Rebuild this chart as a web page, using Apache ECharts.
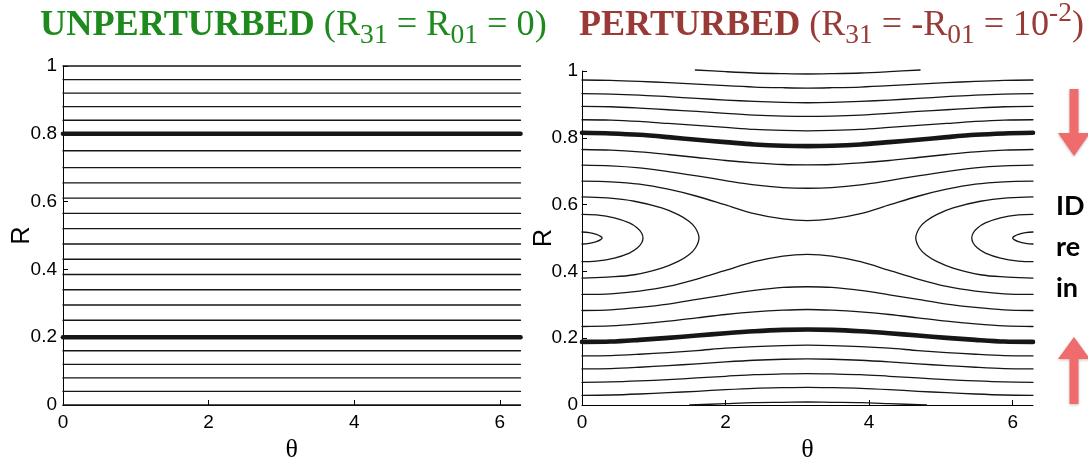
<!DOCTYPE html>
<html><head><meta charset="utf-8">
<script src="https://cdn.jsdelivr.net/npm/echarts@6/dist/echarts.min.js"></script>
<style>html,body{margin:0;padding:0;background:#fff}#c{width:1088px;height:468px}</style>
</head><body><div id="c"></div>
<script>
// ---------- DATA ----------
const TWO_PI = 6.2832;
const xTicks = [0, 2, 4, 6];

// Unperturbed: flat levels of R
const leftLevels = [0, 0.04, 0.08, 0.12, 0.16, 0.25, 0.295, 0.34, 0.385, 0.43, 0.475, 0.52, 0.565, 0.61, 0.655, 0.70, 0.75, 0.84, 0.88, 0.92, 0.96, 1.0];
const leftThickLevels = [0.2, 0.8];

// Perturbed: open field lines sampled on a theta grid
const thetaGrid = [0, 0.4, 0.8, 1.2, 1.6, 2.0, 2.4, 2.8, 3.1416, 3.48, 3.88, 4.28, 4.68, 5.08, 5.48, 5.88, 6.2832];
const rB  = [.973,.972,.969,.965,.961,.956,.952,.950,.949,.950,.952,.956,.961,.965,.969,.972,.973];
const rC  = [.932,.931,.928,.923,.918,.913,.909,.906,.905,.906,.909,.913,.918,.923,.928,.931,.932];
const rD  = [.894,.893,.889,.884,.879,.873,.868,.865,.864,.865,.868,.873,.879,.884,.889,.893,.894];
const rE  = [.854,.853,.849,.843,.837,.831,.825,.822,.821,.822,.825,.831,.837,.843,.849,.853,.854];
const rThickUp = [.815,.813,.809,.802,.794,.787,.780,.776,.775,.776,.780,.787,.794,.802,.809,.813,.815];
const rG  = [.765,.763,.758,.750,.741,.732,.725,.720,.719,.720,.725,.732,.741,.750,.758,.763,.765];
const rH  = [.718,.716,.710,.699,.686,.672,.659,.651,.649,.651,.659,.672,.686,.699,.710,.716,.718];
const rI  = [.670,.668,.661,.646,.625,.599,.573,.557,.552,.557,.573,.599,.625,.646,.661,.668,.670];
const rI2 = [.331,.333,.341,.355,.377,.403,.429,.446,.451,.446,.429,.403,.377,.355,.341,.333,.331];
const rH2 = [.283,.285,.292,.302,.316,.330,.343,.352,.354,.352,.343,.330,.316,.302,.292,.285,.283];
const rG2 = [.235,.237,.243,.251,.261,.271,.279,.284,.286,.284,.279,.271,.261,.251,.243,.237,.235];
const rThickLow = [.189,.190,.195,.201,.208,.215,.221,.225,.226,.225,.221,.215,.208,.201,.195,.190,.189];
const rJ2 = [.147,.148,.152,.157,.163,.170,.175,.178,.179,.178,.175,.170,.163,.157,.152,.148,.147];
const rK2 = [.108,.109,.113,.118,.123,.129,.134,.137,.138,.137,.134,.129,.123,.118,.113,.109,.108];
const rL2 = [.068,.069,.072,.076,.081,.086,.091,.093,.094,.093,.091,.086,.081,.076,.072,.069,.068];
const rM2 = [.029,.030,.033,.037,.041,.046,.050,.052,.053,.052,.050,.046,.041,.037,.033,.030,.029];

// Partial arcs near R=1 and R=0
const topArcTheta = [1.58, 2.0, 2.4, 2.8, 3.1416, 3.48, 3.88, 4.28, 4.71];
const topArcR     = [1.003, .998, .994, .992, .991, .992, .994, .998, 1.003];
const botArcTheta = [1.5, 2.0, 2.4, 2.8, 3.1416, 3.48, 3.88, 4.28, 4.8];
const botArcR     = [0.0, .004, .007, .008, .009, .008, .007, .004, 0.0];

// Island contours around the O-point (theta = 0 and 2*pi, R = 0.5)
const smallIslLTheta = [0, 0.1, 0.2, 0.26, 0.28, 0.26, 0.2, 0.1, 0];
const smallIslRTheta = [6.2832, 6.18, 6.08, 6.02, 6.0, 6.02, 6.08, 6.18, 6.2832];
const smallIslR      = [.518, .516, .511, .505, .5, .495, .489, .484, .482];
const medIslLTheta = [0, 0.2, 0.45, 0.66, 0.77, 0.83, 0.85, 0.83, 0.77, 0.66, 0.45, 0.2, 0];
const medIslRTheta = [6.2832, 6.08, 5.83, 5.62, 5.51, 5.45, 5.43, 5.45, 5.51, 5.62, 5.83, 6.08, 6.2832];
const medIslR      = [.571, .569, .560, .545, .530, .515, .5, .485, .470, .455, .440, .431, .429];
const bigIslLTheta = [0, 0.35, 0.73, 1.11, 1.34, 1.49, 1.58, 1.63, 1.58, 1.49, 1.34, 1.11, 0.73, 0.35, 0];
const bigIslRTheta = [6.2832, 5.93, 5.55, 5.17, 4.94, 4.79, 4.70, 4.65, 4.70, 4.79, 4.94, 5.17, 5.55, 5.93, 6.2832];
const bigIslR      = [.623, .620, .610, .590, .570, .550, .530, .500, .470, .450, .430, .410, .390, .383, .380];

// ---------- BUILD ----------
const THIN = 1.3, THICK = 4.6, LC = '#161616';
const zip = (xs, ys) => xs.map((x, i) => [x, ys[i]]);
const series = [];
function add(grid, data, width, smooth) {
  series.push({
    type: 'line', xAxisIndex: grid, yAxisIndex: grid, data: data,
    showSymbol: false, symbol: 'none', silent: true, clip: false,
    smooth: smooth,
    lineStyle: { color: LC, width: width, cap: 'round', join: 'round' }
  });
}
leftLevels.forEach(v => add(0, [[0, v], [TWO_PI, v]], THIN, false));
leftThickLevels.forEach(v => add(0, [[0, v], [TWO_PI, v]], THICK, false));

[rB, rC, rD, rE, rG, rH, rI, rI2, rH2, rG2, rJ2, rK2, rL2, rM2].forEach(r => add(1, zip(thetaGrid, r), THIN, 0.3));
[rThickUp, rThickLow].forEach(r => add(1, zip(thetaGrid, r), THICK, 0.3));
add(1, zip(topArcTheta, topArcR), THIN, 0.3);
add(1, zip(botArcTheta, botArcR), THIN, 0.3);
add(1, zip(smallIslLTheta, smallIslR), THIN, 0.4);
add(1, zip(smallIslRTheta, smallIslR), THIN, 0.4);
add(1, zip(medIslLTheta, medIslR), THIN, 0.4);
add(1, zip(medIslRTheta, medIslR), THIN, 0.4);
add(1, zip(bigIslLTheta, bigIslR), THIN, 0.4);
add(1, zip(bigIslRTheta, bigIslR), THIN, 0.4);

const SANS = '"Liberation Sans", Arial, Helvetica, sans-serif';
const SERIF = '"Liberation Serif", "Times New Roman", serif';
function xAx(g) {
  return {
    gridIndex: g, type: 'value', min: 0, max: TWO_PI,
    axisLine: { show: true, onZero: false, lineStyle: { color: '#000', width: 1 } },
    axisTick: { show: true, inside: true, length: 5, customValues: xTicks, lineStyle: { color: '#000' } },
    axisLabel: { customValues: xTicks, color: '#000', fontSize: 19, fontFamily: SANS, margin: 8 },
    splitLine: { show: false },
    name: 'θ', nameLocation: 'middle', nameGap: 32, nameMoveOverlap: false,
    nameTextStyle: { fontSize: 26, fontFamily: SERIF, color: '#000' }
  };
}
function yAx(g, gap, margin) {
  return {
    gridIndex: g, type: 'value', min: 0, max: 1, interval: 0.2,
    axisLine: { show: true, onZero: false, lineStyle: { color: '#000', width: 1 } },
    axisTick: { show: true, inside: true, length: 5, lineStyle: { color: '#000' } },
    axisLabel: { color: '#000', fontSize: 19, fontFamily: SANS, margin: margin },
    splitLine: { show: false },
    name: 'R', nameLocation: 'middle', nameGap: gap, nameMoveOverlap: false,
    nameTextStyle: { fontSize: 25, fontFamily: SANS, color: '#000' }
  };
}

// ---------- TITLES / ANNOTATIONS ----------
const graphics = [];
const mctx = document.createElement('canvas').getContext('2d');
const SUBK = 0.76;
function layoutTitle(parts, x0, x1, base, color) {
  const fontOf = (p, s) => (p.b ? 'bold ' : '') + (p.sub || p.sup ? s * SUBK : s) + 'px ' + SERIF;
  const wOf = (p, s) => { mctx.font = fontOf(p, s); return mctx.measureText(p.t).width; };
  const tot = parts.reduce((a, p) => a + wOf(p, 100), 0);
  const s = 100 * (x1 - x0) / tot;
  let x = x0;
  parts.forEach(p => {
    const fs = p.sub || p.sup ? s * SUBK : s;
    const b = p.sub ? base + 0.19 * s : p.sup ? base - 0.40 * s : base;
    graphics.push({ type: 'text', x: x, y: b - 0.34 * fs, silent: true,
      style: { text: p.t, font: fontOf(p, s), fill: color, verticalAlign: 'middle', align: 'left' } });
    x += wOf(p, s);
  });
}
layoutTitle([
  { t: 'UNPERTURBED', b: true }, { t: ' (R' }, { t: '31', sub: true }, { t: ' = R' }, { t: '01', sub: true }, { t: ' = 0)' }
], 40, 547, 38, '#1e8a1e');
layoutTitle([
  { t: 'PERTURBED', b: true }, { t: ' (R' }, { t: '31', sub: true }, { t: ' = -R' }, { t: '01', sub: true }, { t: ' = 10' }, { t: '-2', sup: true }, { t: ')' }
], 579, 1084, 38, '#993a36');

const sideWords = ['ID', 're', 'in'];
const sideBase = [220, 261, 302];
sideWords.forEach((w, i) => graphics.push({ type: 'text', x: 1056, y: sideBase[i], silent: true,
  style: { text: w, font: 'bold 27px Lato, "Open Sans", sans-serif', fill: '#000', verticalAlign: 'bottom', align: 'left' } }));

const ARROW = '#f06b6b';
const cx = 1074, hw = 16, sw = 4.5;
graphics.push({ type: 'polygon', silent: true,
  shape: { points: [[cx - sw, 89], [cx + sw, 89], [cx + sw, 133], [cx + hw, 133], [cx, 156], [cx - hw, 133], [cx - sw, 133]] },
  style: { fill: ARROW, shadowBlur: 3, shadowColor: 'rgba(0,0,0,0.25)', shadowOffsetY: 1 } });
graphics.push({ type: 'polygon', silent: true,
  shape: { points: [[cx, 337], [cx + hw, 359], [cx + sw, 359], [cx + sw, 404], [cx - sw, 404], [cx - sw, 359], [cx - hw, 359]] },
  style: { fill: ARROW, shadowBlur: 3, shadowColor: 'rgba(0,0,0,0.25)', shadowOffsetY: 1 } });

const chart = echarts.init(document.getElementById('c'), null, { renderer: 'canvas' });
chart.setOption({
  animation: false,
  backgroundColor: '#fff',
  grid: [
    { left: 63, top: 66, width: 457.5, height: 349 },
    { left: 582, top: 71, width: 451, height: 344 }
  ],
  xAxis: [xAx(0), xAx(1)],
  yAxis: [yAx(0, 28, 6), yAx(1, 25, 4)],
  series: series,
  graphic: graphics
});
</script></body></html>
